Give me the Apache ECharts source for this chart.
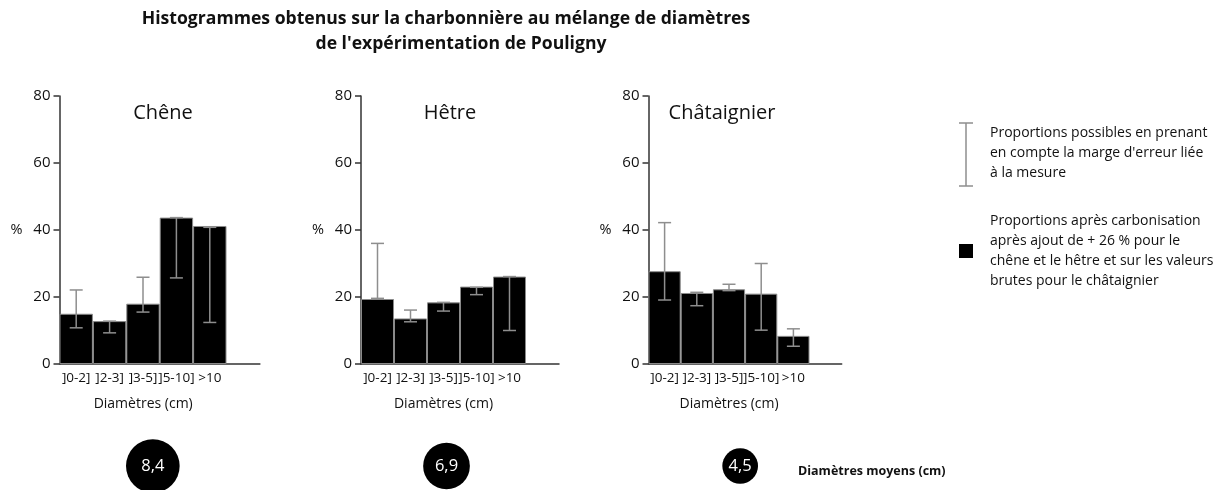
<!DOCTYPE html>
<html>
<head>
<meta charset="utf-8">
<script src="https://cdn.jsdelivr.net/npm/echarts@6.0.0/dist/echarts.min.js"></script>
<style>
  html, body { margin: 0; padding: 0; background: #fff; }
  #chart { width: 1222px; height: 490px; }
</style>
</head>
<body>
<div id="chart"></div>
<script>
// Diameter classes (cm); a trailing empty slot leaves room after the last bar
const categories = [']0-2]', ']2-3]', ']3-5]', ']5-10]', '>10'];
const yTicks = [0, 20, 40, 60, 80];

// Proportions (%) per diameter class, with the possible range from measurement error
const chene = [15.0, 12.8, 18.0, 43.7, 41.2];
const cheneLow = [10.8, 9.3, 15.5, 25.7, 12.4];
const cheneHigh = [22.1, 12.8, 25.9, 43.7, 40.8];

const hetre = [19.4, 13.6, 18.4, 23.1, 26.1];
const hetreLow = [19.6, 12.6, 15.8, 20.7, 10.0];
const hetreHigh = [36.0, 16.1, 18.4, 22.9, 26.1];

const chataignier = [27.7, 21.2, 22.3, 21.0, 8.4];
const chataignierLow = [19.1, 17.4, 21.9, 10.1, 5.3];
const chataignierHigh = [42.2, 21.4, 23.8, 30.0, 10.5];

const species = ['Chêne', 'Hêtre', 'Châtaignier'];
const meanDiameters = [8.4, 6.9, 4.5];

const FONT = '"Open Sans", "DejaVu Sans", sans-serif';
const AXIS = '#333';
const ERR = '#8e8e8e';

const panels = [
  { name: species[0], values: chene, low: cheneLow, high: cheneHigh, left: 59.5, width: 200.4, titleX: 163, pad: 33 },
  { name: species[1], values: hetre, low: hetreLow, high: hetreHigh, left: 361, width: 198, titleX: 450, pad: 33 },
  { name: species[2], values: chataignier, low: chataignierLow, high: chataignierHigh, left: 648.5, width: 193.2, titleX: 722, pad: 32 }
];

const grids = [], xAxes = [], yAxes = [], series = [];

panels.forEach((p, i) => {
  grids.push({ left: p.left, top: 96, width: p.width, height: 268 });
  xAxes.push({
    type: 'category', gridIndex: i, data: categories.concat(['']),
    axisLine: { lineStyle: { color: AXIS, width: 1.5 } },
    axisTick: { show: false },
    axisLabel: { color: '#111', fontSize: 13.5, fontFamily: FONT, margin: 7, interval: 0 },
    name: 'Diamètres (cm)', nameLocation: 'middle', nameGap: 33,
    nameTextStyle: { color: '#111', fontSize: 14, fontFamily: FONT, padding: [0, p.pad, 0, 0] }
  });
  yAxes.push({
    type: 'value', gridIndex: i, min: yTicks[0], max: yTicks[yTicks.length - 1], interval: 20,
    axisLine: { show: true, lineStyle: { color: AXIS, width: 1.5 } },
    axisTick: { show: true, length: 6, lineStyle: { color: AXIS, width: 1.5 } },
    axisLabel: { color: '#111', fontSize: 15, fontFamily: FONT, margin: 9 },
    splitLine: { show: false },
    name: '%', nameLocation: 'middle', nameRotate: 0, nameGap: 37,
    nameTextStyle: { color: '#111', fontSize: 14.5, fontFamily: FONT }
  });
  series.push({
    type: 'bar', xAxisIndex: i, yAxisIndex: i, data: p.values,
    barCategoryGap: '0%', silent: true,
    itemStyle: { color: '#000', borderColor: '#8a8a8a', borderWidth: 1 }
  });
  series.push({
    type: 'custom', xAxisIndex: i, yAxisIndex: i, z: 5, silent: true,
    data: p.low.map((lo, k) => [k, lo, p.high[k]]),
    encode: { x: 0, y: [1, 2] },
    renderItem: (params, api) => {
      const x = api.value(0);
      const a = api.coord([x, api.value(1)]);
      const b = api.coord([x, api.value(2)]);
      const w = 6.5;
      const st = { stroke: ERR, lineWidth: 1.5 };
      return {
        type: 'group', children: [
          { type: 'line', shape: { x1: a[0], y1: a[1], x2: b[0], y2: b[1] }, style: st },
          { type: 'line', shape: { x1: a[0] - w, y1: a[1], x2: a[0] + w, y2: a[1] }, style: st },
          { type: 'line', shape: { x1: b[0] - w, y1: b[1], x2: b[0] + w, y2: b[1] }, style: st }
        ]
      };
    }
  });
});

// Row of mean-diameter discs under the three histograms
grids.push({ left: 6, top: 446, width: 881, height: 40 });
xAxes.push({ type: 'category', gridIndex: 3, data: species, show: false });
yAxes.push({ type: 'value', gridIndex: 3, min: -1, max: 1, show: false });
series.push({
  type: 'scatter', xAxisIndex: 3, yAxisIndex: 3, silent: true,
  data: meanDiameters.map((v, i) => [i, 0, v]),
  symbol: 'circle',
  symbolSize: d => 15 + 4.6 * d[2],
  itemStyle: { color: '#000', opacity: 1 },
  label: {
    show: true, position: 'inside', color: '#fff', fontSize: 16.5, fontFamily: FONT,
    formatter: p => String(p.data[2]).replace('.', ',')
  }
});

const textStyle = (text, size, weight) => ({ text, fill: '#111', font: `${weight || 'normal'} ${size}px ${FONT}` });

const graphics = [
  { type: 'text', x: 446, y: 19, style: Object.assign(textStyle('Histogrammes obtenus sur la charbonnière au mélange de diamètres', 17.6, 'bold'), { textAlign: 'center', textVerticalAlign: 'middle' }) },
  { type: 'text', x: 461, y: 44, style: Object.assign(textStyle("de l'expérimentation de Pouligny", 17.6, 'bold'), { textAlign: 'center', textVerticalAlign: 'middle' }) },
  { type: 'text', x: 798, y: 471, style: Object.assign(textStyle('Diamètres moyens (cm)', 12.5, 'bold'), { textAlign: 'left', textVerticalAlign: 'middle' }) },
  // legend: error range glyph
  { type: 'line', shape: { x1: 966, y1: 123, x2: 966, y2: 186 }, style: { stroke: ERR, lineWidth: 1.5 } },
  { type: 'line', shape: { x1: 959, y1: 123, x2: 973, y2: 123 }, style: { stroke: ERR, lineWidth: 1.5 } },
  { type: 'line', shape: { x1: 959, y1: 186, x2: 973, y2: 186 }, style: { stroke: ERR, lineWidth: 1.5 } },
  { type: 'text', x: 990, y: 123, style: Object.assign(textStyle("Proportions possibles en prenant\nen compte la marge d'erreur liée\nà la mesure", 14), { lineHeight: 20, textVerticalAlign: 'top' }) },
  // legend: bar swatch
  { type: 'rect', shape: { x: 959, y: 244, width: 14, height: 14 }, style: { fill: '#000' } },
  { type: 'text', x: 990, y: 211, style: Object.assign(textStyle("Proportions après carbonisation\naprès ajout de + 26 % pour le\nchêne et le hêtre et sur les valeurs\nbrutes pour le châtaignier", 14), { lineHeight: 20, textVerticalAlign: 'top' }) }
];
panels.forEach(p => {
  graphics.push({ type: 'text', x: p.titleX, y: 113, style: Object.assign(textStyle(p.name, 20), { textAlign: 'center', textVerticalAlign: 'middle' }) });
});

const chart = echarts.init(document.getElementById('chart'), null, { renderer: 'canvas' });
chart.setOption({
  backgroundColor: '#fff',
  animation: false,
  grid: grids,
  xAxis: xAxes,
  yAxis: yAxes,
  series: series,
  graphic: graphics
});
</script>
</body>
</html>
